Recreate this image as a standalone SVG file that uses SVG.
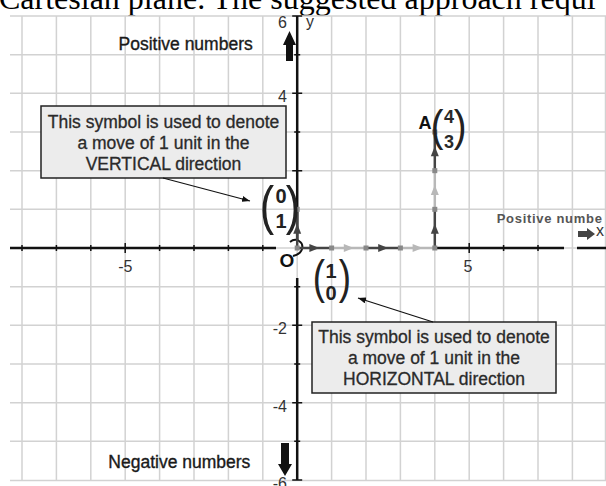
<svg xmlns="http://www.w3.org/2000/svg" width="606" height="486" viewBox="0 0 606 486">
<style>
.grid line{stroke:#d2d2d2;stroke-width:1.5}
.axis{stroke:#111;stroke-width:2.5;fill:none}
.tick{stroke:#111;stroke-width:1.5}
.tl{font-family:"Liberation Sans",Arial,sans-serif;font-size:16px;fill:#333}
.big{font-family:"Liberation Sans",Arial,sans-serif;font-size:17.5px;fill:#1a1a1a;stroke:#1a1a1a;stroke-width:0.35}
.box{fill:#ececec;stroke:#222;stroke-width:1.5}
.bt{font-family:"Liberation Sans",Arial,sans-serif;font-size:17.5px;fill:#2a2a2a;stroke:#2a2a2a;stroke-width:0.3;text-anchor:middle}
.dk{stroke:#444;stroke-width:2.5;fill:none;marker-mid:url(#ad)}
.lt{stroke:#b8b8b8;stroke-width:2.5;fill:none;marker-mid:url(#al)}
.sq{fill:#888}
.vd{font-family:"Liberation Sans",Arial,sans-serif;font-weight:bold;font-size:20px;fill:#222;text-anchor:middle}
.par{font-family:"Liberation Sans",Arial,sans-serif;fill:#222;text-anchor:middle}
.conn{stroke:#111;stroke-width:1.2;fill:none;marker-end:url(#ac)}
</style>
<defs>
<marker id="ad" markerUnits="userSpaceOnUse" markerWidth="12" markerHeight="10" viewBox="0 0 12 10" refX="6" refY="5" orient="auto"><path d="M1,1 L11,5 L1,9 Z" fill="#444"/></marker>
<marker id="al" markerUnits="userSpaceOnUse" markerWidth="12" markerHeight="10" viewBox="0 0 12 10" refX="6" refY="5" orient="auto"><path d="M1,1 L11,5 L1,9 Z" fill="#b8b8b8"/></marker>
<marker id="ac" markerUnits="userSpaceOnUse" markerWidth="8" markerHeight="6" viewBox="0 0 8 6" refX="8" refY="3" orient="auto"><path d="M0,0 L8,3 L0,6 Z" fill="#111"/></marker>
</defs>
<rect width="606" height="486" fill="#fff"/>
<text x="-1" y="9" font-family="Liberation Serif,Times New Roman,serif" font-size="32" fill="#000">Cartesian plane. The suggested approach requi</text>
<g id="grid" class="grid">
<line x1="22" y1="16" x2="22" y2="481"/><line x1="56.4" y1="16" x2="56.4" y2="481"/><line x1="90.8" y1="16" x2="90.8" y2="481"/><line x1="125.2" y1="16" x2="125.2" y2="481"/><line x1="159.6" y1="16" x2="159.6" y2="481"/><line x1="194" y1="16" x2="194" y2="481"/><line x1="228.4" y1="16" x2="228.4" y2="481"/><line x1="262.8" y1="16" x2="262.8" y2="481"/><line x1="297.2" y1="16" x2="297.2" y2="481"/><line x1="331.6" y1="16" x2="331.6" y2="481"/><line x1="366" y1="16" x2="366" y2="481"/><line x1="400.4" y1="16" x2="400.4" y2="481"/><line x1="434.8" y1="16" x2="434.8" y2="481"/><line x1="469.2" y1="16" x2="469.2" y2="481"/><line x1="503.6" y1="16" x2="503.6" y2="481"/><line x1="538" y1="16" x2="538" y2="481"/><line x1="572.4" y1="16" x2="572.4" y2="481"/><line x1="605.5" y1="16" x2="605.5" y2="481"/>
<line x1="10" y1="16" x2="606" y2="16"/><line x1="10" y1="54.67" x2="606" y2="54.67"/><line x1="10" y1="93.33" x2="606" y2="93.33"/><line x1="10" y1="132" x2="606" y2="132"/><line x1="10" y1="170.67" x2="606" y2="170.67"/><line x1="10" y1="209.33" x2="606" y2="209.33"/><line x1="10" y1="248" x2="606" y2="248"/><line x1="10" y1="286.67" x2="606" y2="286.67"/><line x1="10" y1="325.33" x2="606" y2="325.33"/><line x1="10" y1="364" x2="606" y2="364"/><line x1="10" y1="402.67" x2="606" y2="402.67"/><line x1="10" y1="441.33" x2="606" y2="441.33"/><line x1="10" y1="480.5" x2="606" y2="480.5"/>
</g>
<g id="axes">
<path class="axis" d="M10,248 H276 M434.8,248 H564 M577,248 H606 M297.2,16 V240 M297.2,278 V480"/>
<path class="tick" d="M22,245 V251 M56.4,245 V251 M90.8,245 V251 M125.2,243 V253 M159.6,245 V251 M194,245 V251 M228.4,245 V251 M262.8,245 V251 M469.2,243 V253 M503.6,245 V251 M538,245 V251"/>
<path class="tick" d="M292.2,16 H302.2 M294.2,54.67 H300.2 M292.2,93.33 H302.2 M294.2,132 H300.2 M292.2,170.67 H302.2 M294.2,286.67 H300.2 M292.2,325.33 H302.2 M294.2,364 H300.2 M292.2,402.67 H302.2 M294.2,441.33 H300.2 M292.2,480 H302.2"/>
<text class="tl" x="287" y="28" text-anchor="end">6</text>
<text class="tl" x="306" y="27" font-size="14">y</text>
<text class="tl" x="287" y="102" text-anchor="end">4</text>
<text class="tl" x="287" y="334" text-anchor="end">-2</text>
<text class="tl" x="287" y="412" text-anchor="end">-4</text>
<text class="tl" x="287" y="489" text-anchor="end">-6</text>
<text class="tl" x="125.3" y="272" text-anchor="middle">-5</text>
<text class="tl" x="468" y="272" text-anchor="middle">5</text>
<text class="tl" x="600" y="236" text-anchor="middle" font-size="13" fill="#555">x</text>
<text x="287" y="267" text-anchor="middle" font-family="Liberation Sans,Arial,sans-serif" font-weight="bold" font-size="19" fill="#111">O</text>
<path d="M290,242 C296,237 304,242 302,249 C301,253 297,255 293,256" stroke="#111" stroke-width="2" fill="none"/>
</g>
<g id="direction-labels">
<text class="big" x="118.5" y="50">Positive numbers</text>
<polygon points="289.5,31 296,45 293,45 293,61 286,61 286,45 283,45" fill="#111"/>
<text class="big" x="108.3" y="468">Negative numbers</text>
<polygon points="281,443 289,443 289,464 292,464 285,476 278,464 281,464" fill="#111"/>
<text x="496.7" y="223" font-family="Liberation Sans,Arial,sans-serif" font-weight="bold" font-size="13" letter-spacing="0.7" fill="#555">Positive numbe</text>
<polygon points="578,231 587,231 587,228 595,234 587,240 587,237 578,237" fill="#444"/>
</g>
<g id="path-moves">
<path class="dk" d="M297.2,248 L314.4,248 L331.6,248"/>
<path class="lt" d="M331.6,248 L348.8,248 L366,248"/>
<path class="dk" d="M366,248 L383.2,248 L400.4,248"/>
<path class="lt" d="M400.4,248 L417.6,248 L434.8,248"/>
<path class="dk" d="M434.8,248 L434.8,228.67 L434.8,209.33"/>
<path class="lt" d="M434.8,209.33 L434.8,190 L434.8,170.67"/>
<path class="dk" d="M434.8,170.67 L434.8,151.33 L434.8,132"/>
<path class="dk" d="M297.2,248 L297.2,228.67 L297.2,209.33"/>
<rect class="sq" x="294.7" y="245.5" width="5" height="5"/>
<rect class="sq" x="329.1" y="245.5" width="5" height="5"/>
<rect class="sq" x="363.5" y="245.5" width="5" height="5"/>
<rect class="sq" x="397.9" y="245.5" width="5" height="5"/>
<rect class="sq" x="432.3" y="245.5" width="5" height="5"/>
<rect class="sq" x="432.3" y="206.83" width="5" height="5"/>
<rect class="sq" x="432.3" y="168.17" width="5" height="5"/>
<rect class="sq" x="432.3" y="129.5" width="5" height="5"/>
<rect class="sq" x="294.7" y="206.83" width="5" height="5"/>
</g>
<g id="pointA">
<text x="425" y="129" text-anchor="middle" font-family="Liberation Sans,Arial,sans-serif" font-weight="bold" font-size="18" fill="#111">A</text>
<text class="par" font-size="45" transform="translate(437,140.5) scale(0.85,1)">(</text>
<text class="par" font-size="45" transform="translate(460,140.5) scale(0.85,1)">)</text>
<text x="449" y="123" text-anchor="middle" font-family="Liberation Sans,Arial,sans-serif" font-weight="bold" font-size="18" fill="#2a2a2a">4</text>
<text x="449" y="148" text-anchor="middle" font-family="Liberation Sans,Arial,sans-serif" font-weight="bold" font-size="18" fill="#2a2a2a">3</text>
</g>
<g id="vec01">
<text class="par" font-size="54" transform="translate(267,223.5) scale(0.8,1)">(</text>
<text class="par" font-size="54" transform="translate(293,223.5) scale(0.8,1)">)</text>
<text class="vd" x="281" y="203">0</text>
<text class="vd" x="281" y="228">1</text>
</g>
<g id="vec10">
<text class="par" font-size="46" transform="translate(319,292.5) scale(0.8,1)">(</text>
<text class="par" font-size="46" transform="translate(345,292.5) scale(0.8,1)">)</text>
<text class="vd" x="331" y="278">1</text>
<text class="vd" x="331" y="300">0</text>
</g>
<g id="callout-vertical">
<rect class="box" x="41" y="106" width="245" height="72"/>
<text class="bt" x="163.5" y="128">This symbol is used to denote</text>
<text class="bt" x="163.5" y="149">a move of 1 unit in the</text>
<text class="bt" x="163.5" y="170">VERTICAL direction</text>
</g>
<g id="callout-horizontal">
<rect class="box" x="312" y="322" width="244" height="71"/>
<text class="bt" x="434" y="343">This symbol is used to denote</text>
<text class="bt" x="434" y="364">a move of 1 unit in the</text>
<text class="bt" x="434" y="385">HORIZONTAL direction</text>
</g>
<g id="connectors">
<path class="conn" d="M163,178 L250,201"/>
<path class="conn" d="M433,322 L358,298"/>
</g>
</svg>
